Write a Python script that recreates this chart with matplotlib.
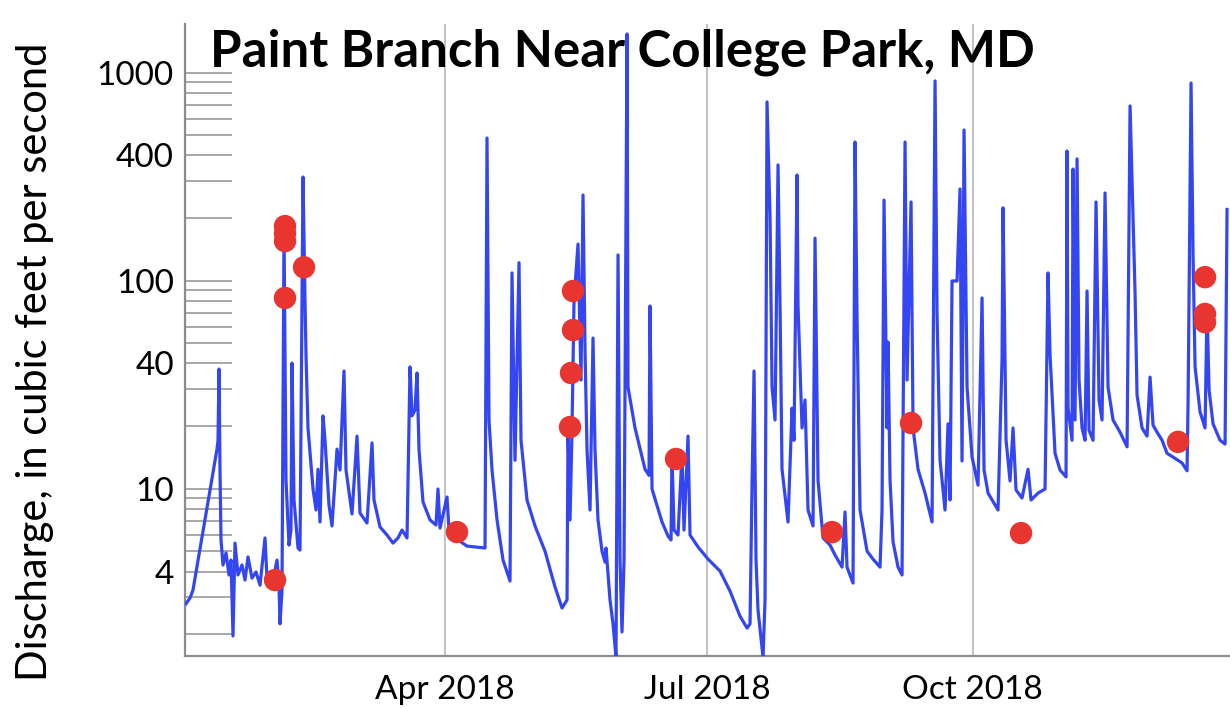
import matplotlib
matplotlib.use("Agg")
import matplotlib.pyplot as plt
import matplotlib.ticker as mticker
import pandas as pd
import numpy as np

plt.rcParams['font.family'] = ['Lato', 'DejaVu Sans']

# ---- data ----
start_date = "2018-01-01"
# days since start of 2018
days = [0.0, 1.73, 2.77, 11.09, 11.44, 11.79, 12.13, 12.48, 13.17, 14.21, 15.25, 15.94, 16.64, 17.33,
        18.37, 19.76, 20.80, 21.84, 23.22, 24.61, 26.00, 27.73, 28.42, 30.16, 31.89, 32.58, 32.93, 33.62,
        34.32, 35.01, 36.05, 36.74, 37.09, 37.78, 39.17, 39.86, 40.90, 41.59, 41.94, 42.63, 44.37, 45.41,
        46.10, 46.79, 47.83, 48.53, 49.91, 50.95, 52.69, 53.73, 55.11, 55.81, 57.89, 59.62, 60.66, 63.08,
        64.82, 65.51, 67.59, 70.02, 72.10, 73.83, 75.22, 76.95, 77.99, 78.68, 79.72, 80.42, 81.11, 82.50,
        84.92, 87.00, 87.69, 88.39, 90.81, 91.51, 93.59, 97.75, 103.99, 104.68, 105.37, 106.41, 108.15,
        110.23, 112.65, 113.34, 114.38, 115.77, 116.46, 118.54, 121.32, 124.78, 128.25, 130.68, 132.41,
        132.76, 133.45, 134.14, 134.84, 136.22, 137.26, 137.95, 138.65, 139.34, 140.38, 141.42, 142.11,
        143.15, 144.54, 145.58, 145.93, 147.31, 148.35, 149.39, 150.09, 150.78, 151.47, 152.17, 153.21,
        153.55, 155.98, 159.45, 160.83, 161.18, 161.87, 165.34, 167.42, 168.46, 168.80, 169.50, 170.88,
        172.27, 172.96, 174.35, 175.04, 177.82, 181.28, 185.44, 188.91, 192.37, 194.80, 195.84, 196.53,
        197.23, 197.92, 198.61, 200.35, 201.04, 201.73, 202.77, 203.47, 204.51, 205.55, 206.24, 206.93,
        209.01, 210.40, 211.09, 212.13, 212.48, 213.86, 214.90, 215.94, 217.68, 218.37, 219.41, 221.14,
        223.57, 225.30, 227.73, 228.77, 229.46, 231.54, 232.24, 232.93, 233.97, 236.40, 238.47, 240.90,
        241.59, 242.29, 243.33, 243.67, 244.37, 245.41, 247.14, 248.53, 249.57, 250.26, 250.61, 251.65,
        252.34, 254.07, 256.50, 258.93, 259.97, 260.66, 261.70, 263.43, 264.47, 265.16, 265.86, 267.59,
        268.63, 269.32, 270.02, 271.06, 272.79, 274.87, 276.26, 276.95, 278.34, 281.80, 283.19, 283.54,
        284.58, 285.96, 287.00, 288.04, 290.12, 292.20, 293.24, 295.67, 298.09, 299.13, 299.83, 301.56,
        303.29, 305.37, 305.72, 306.07, 307.45, 307.80, 308.49, 309.19, 309.88, 310.92, 311.96, 312.65,
        313.34, 314.73, 315.77, 316.81, 317.85, 318.89, 319.93, 321.66, 324.09, 326.52, 327.56, 329.29,
        329.98, 331.72, 333.45, 334.49, 335.53, 336.92, 338.65, 340.38, 342.46, 345.58, 347.31, 347.66,
        348.70, 349.39, 350.09, 351.82, 353.55, 354.25, 354.94, 356.33, 358.75, 360.49, 361.18]
# discharge, cubic feet per second
flows = [2.76, 2.98, 3.26, 15.5, 17.1, 37.6, 12.3, 5.67, 4.30, 4.91, 3.85, 4.54, 1.96, 5.48,
         3.85, 4.30, 3.64, 4.70, 3.72, 3.98, 3.44, 5.80, 3.72, 3.44, 4.54, 3.44, 2.24, 3.26,
         179, 11.0, 5.36, 6.33, 40.2, 8.83, 5.19, 5.07, 315, 80.8, 44.0, 19.6, 9.97, 7.90,
         12.4, 6.92, 22.4, 17.1, 8.35, 6.62, 15.5, 12.3, 36.8, 12.3, 7.56, 17.9, 7.64, 6.84,
         16.6, 8.83, 6.55, 5.99, 5.48, 5.80, 6.33, 5.80, 38.5, 22.4, 23.9, 36.0, 15.4, 8.63,
         7.08, 6.69, 9.97, 6.47, 9.12, 6.33, 5.80, 5.30, 5.19, 485, 21.4, 12.3, 7.08,
         4.54, 3.60, 109, 13.7, 122, 17.1, 8.83, 6.62, 5.01, 3.37, 2.67, 2.92,
         18.7, 7.08, 19.1, 80.8, 150, 33.3, 258, 46.4, 15.4, 7.90, 53.0, 15.4,
         7.08, 5.01, 4.44, 5.19, 2.92, 2.24, 1.55, 133, 4.54, 2.05, 4.54, 1535,
         30.8, 19.6, 12.4, 11.6, 75.6, 9.97, 6.92, 5.92, 5.67, 14.5, 6.33, 5.99,
         14.8, 6.33, 17.9, 5.99, 5.25, 4.59, 4.02, 3.22, 2.44, 2.14, 2.24, 10.4,
         36.8, 4.54, 2.61, 1.55, 2.92, 723, 205, 30.8, 21.4, 360, 75.6, 12.4,
         6.92, 24.4, 17.1, 322, 75.6, 19.6, 26.7, 7.90, 6.62, 160, 11.0, 5.80,
         5.36, 4.80, 4.20, 7.73, 4.20, 3.52, 464, 66.2, 7.90, 5.01, 4.59, 4.20,
         7.90, 244, 19.6, 50.7, 11.0, 5.55, 4.20, 3.85, 464, 33.3, 55.4, 239,
         19.6, 12.4, 9.53, 6.92, 912, 69.2, 13.7, 7.90, 20.5, 8.83, 99.7, 99.7,
         276, 13.6, 530, 30.8, 14.2, 10.4, 82.6, 12.3, 9.53, 7.90, 42.0, 224,
         17.1, 10.9, 19.6, 9.86, 9.02, 12.4, 8.83, 9.53, 9.97, 109, 44.0, 14.8,
         12.3, 11.4, 420, 24.4, 17.1, 344, 21.4, 385, 33.3, 19.6, 17.1, 89.2,
         19.1, 17.1, 239, 26.7, 21.4, 264, 30.8, 21.4, 18.7, 15.9, 692, 87.3,
         28.2, 19.6, 17.9, 34.4, 20.2, 18.7, 17.1, 14.8, 14.2, 13.3, 12.2, 25.5,
         892, 133, 38.5, 23.4, 19.6, 75.6, 29.8, 20.5, 17.1, 16.4, 224]

# discrete sample points (red dots)
sample_days = [31.20, 34.66, 34.66, 34.66, 34.66, 41.25, 94.28, 134.49, 134.49, 133.80, 133.45,
               170.19, 224.26, 251.65, 289.77, 344.19, 353.55, 353.55, 353.55]
sample_flows = [3.64, 183, 169, 155, 82.6, 116, 6.19, 89.2, 57.9, 36.0, 19.8,
                13.9, 6.19, 20.7, 6.12, 16.8, 104, 69.2, 63.2]

y_major = [4, 10, 40, 100, 400, 1000]
x_tick_dates = ["2018-04-01", "2018-07-01", "2018-10-01"]
x_tick_labels = ["Apr 2018", "Jul 2018", "Oct 2018"]
title = "Paint Branch Near College Park, MD"
ylabel = "Discharge, in cubic feet per second"

# ---- figure ----
t0 = pd.Timestamp(start_date)
t = t0 + pd.to_timedelta(np.array(days), unit="D")
ts = t0 + pd.to_timedelta(np.array(sample_days), unit="D")

fig = plt.figure(figsize=(12.3, 7.08), dpi=100)
ax = fig.add_axes([185 / 1230, 1 - 656 / 708, 1 - 185 / 1230, (656 - 24) / 708])

ax.plot(t, flows, color="#3446f2", lw=2.3, zorder=3,
        solid_joinstyle="round", solid_capstyle="butt")
ax.scatter(ts, sample_flows, s=260, color="#e8352f", edgecolors="none", zorder=4)

ax.set_yscale("log")
ax.set_ylim(1.57, 1714)
ax.set_xlim(t0, t0 + pd.Timedelta(days=362.2))

for side in ["top", "right"]:
    ax.spines[side].set_visible(False)
for side in ["left", "bottom"]:
    ax.spines[side].set_color("#8c8c8c")
    ax.spines[side].set_linewidth(1.6)

minor = [m * 10 ** k for k in range(0, 4) for m in range(2, 10)]
minor = [v for v in minor if 1.57 <= v <= 1714 and v not in y_major]
ax.yaxis.set_major_locator(mticker.FixedLocator(y_major))
ax.yaxis.set_major_formatter(mticker.FixedFormatter([str(v) for v in y_major]))
ax.yaxis.set_minor_locator(mticker.FixedLocator(minor))
ax.yaxis.set_minor_formatter(mticker.NullFormatter())
ax.tick_params(axis="y", which="both", direction="in", length=34, width=1.2,
               color="#9a9a9a", labelsize=24, pad=8)

xt = [pd.Timestamp(d) for d in x_tick_dates]
ax.set_xticks(xt)
ax.set_xticklabels(x_tick_labels)
ax.tick_params(axis="x", length=0, labelsize=24, pad=14)
ax.grid(axis="x", color="#c4c4c4", lw=1.5, zorder=0)
ax.set_axisbelow(True)

fig.text(35 / 1230, 1 - 362 / 708, ylabel, rotation=90, ha="center", va="center", fontsize=30)
fig.text(210 / 1230, 1 - 67 / 708, title, ha="left", va="baseline", fontsize=36.7, fontweight="bold")

fig.savefig("out.png", dpi=100)
